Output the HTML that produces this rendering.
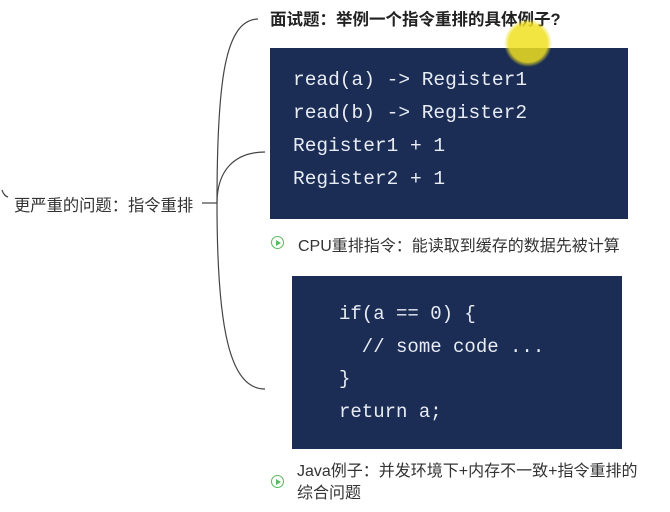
<!DOCTYPE html>
<html><head><meta charset="utf-8"><style>
body{margin:0;width:670px;height:512px;background:#fff;position:relative;overflow:hidden;font-family:"Liberation Sans","Noto Sans CJK SC",sans-serif;}
.t{position:absolute;white-space:nowrap;color:#333;}
.box{position:absolute;background:#1b2d55;}
.code{position:absolute;font-family:"Liberation Mono",monospace;color:#e8ecf4;white-space:pre;}
.ic{position:absolute;width:11px;height:11px;border:1.5px solid #5cb85c;border-radius:50%;}
.ic:after{content:"";position:absolute;left:4px;top:2.5px;border-left:5px solid #5cb85c;border-top:3px solid transparent;border-bottom:3px solid transparent;}
</style></head><body>
<svg width="670" height="512" style="position:absolute;left:0;top:0">
<g fill="none" stroke="#444" stroke-width="1.2">
<path d="M2,190 Q4,196 8,197"/>
<path d="M202,203 L217,203"/>
<path d="M217,203 C217,80 225,20 258,19"/>
<path d="M217,203 C217,170 235,152 265,152"/>
<path d="M217,203 C217,330 230,389 265,389"/>
</g>
</svg>
<div class="t" style="left:270px;top:6px;font-size:16.5px;font-weight:bold;color:#222">面试题：举例一个指令重排的具体例子?</div>
<div class="t" style="left:14px;top:192px;font-size:16.3px;">更严重的问题：指令重排</div>
<div class="box" style="left:270px;top:48px;width:358px;height:171px"></div>
<div class="code" style="left:293px;top:64px;font-size:19.5px;line-height:33px">read(a) -> Register1
read(b) -> Register2
Register1 + 1
Register2 + 1</div>
<svg width="670" height="512" style="position:absolute;left:0;top:0">
<defs><radialGradient id="g"><stop offset="0.8" stop-color="#f0e020"/><stop offset="1" stop-color="#f0e020" stop-opacity="0"/></radialGradient></defs>
<circle cx="528" cy="43" r="24" fill="url(#g)" opacity="0.85"/>
</svg>
<div class="ic" style="left:271px;top:236px"></div>
<div class="t" style="left:298px;top:232px;font-size:16px;">CPU重排指令：能读取到缓存的数据先被计算</div>
<div class="box" style="left:292px;top:276px;width:330px;height:173px"></div>
<div class="code" style="left:339px;top:298px;font-size:19px;line-height:32.5px">if(a == 0) {
  // some code ...
}
return a;</div>
<div class="ic" style="left:271px;top:475px"></div>
<div class="t" style="left:297px;top:461px;font-size:16px;line-height:22px">Java例子：并发环境下+内存不一致+指令重排的<br>综合问题</div>
</body></html>
